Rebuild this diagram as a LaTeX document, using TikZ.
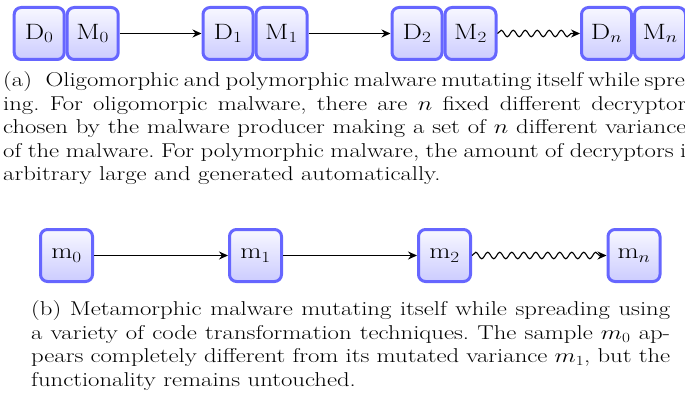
\RequirePackage{fix-cm}
\documentclass[tikz,border=0pt]{standalone}
\usepackage{graphicx}
\usetikzlibrary{arrows.meta,decorations.pathmorphing}

% glyphs are set a little flatter than their natural proportions
\newcommand\squat[1]{\scalebox{1}[0.81]{#1}}
\frenchspacing

\tikzset{
  x=1pt, y=1pt,
  box/.style={draw=blue!60, line width=3pt, rounded corners=7pt,
    top color=blue!3, bottom color=blue!20, inner sep=0pt,
    minimum height=52pt, font=\fontsize{27.4}{30}\selectfont},
  dbox/.style={box, minimum width=50pt},
  mbox/.style={box, minimum width=51pt, anchor=west},
  sbox/.style={box, minimum width=52pt},
  tip/.style={-{Stealth[length=9pt,width=8pt,inset=3pt]}},
  link/.style={tip, line width=1.4pt},
  wavy/.style={tip, line width=1.1pt, decorate,
    decoration={snake, segment length=12pt, amplitude=3.3pt, post length=6pt}},
  capline/.style={anchor=base west, inner sep=0pt,
    font=\fontsize{24.7}{25}\selectfont}
}

\begin{document}
\begin{tikzpicture}
\useasboundingbox (0,0) rectangle (685,394);
\clip (0,0) rectangle (685,394);

% decryptor/body pairs
\node[dbox] (d0) at (39.2,360.5) {\squat{D$_0$}};
\node[mbox] (m0) at (d0.east) {\squat{M$_0$}};
\node[dbox] (d1) at (228,360.5) {\squat{D$_1$}};
\node[mbox] (m1) at (d1.east) {\squat{M$_1$}};
\node[dbox] (d2) at (417,360.5) {\squat{D$_2$}};
\node[mbox] (m2) at (d2.east) {\squat{M$_2$}};
\node[dbox] (dn) at (606.5,360.5) {\squat{D$_n$}};
\node[mbox] (mn) at (dn.east) {\squat{M$_n$}};

\draw[link] (m0) -- (d1);
\draw[link] (m1) -- (d2);
\draw[wavy] (m2) -- (dn);

% caption of the first chain
\node[capline] (ca1) at (3,307)   {\squat{\makebox[698pt][s]{(a)\hspace{0.55em}Oligomorphic and polymorphic malware mutating itself while spread-}}};
\node[capline] (ca2) at (3,283.5) {\squat{\makebox[692pt][s]{ing. For oligomorpic malware, there are $n$ fixed different decryptors}}};
\node[capline] (ca3) at (3,260)   {\squat{\makebox[692pt][s]{chosen by the malware producer making a set of $n$ different variances}}};
\node[capline] (ca4) at (3,236.5) {\squat{\makebox[692pt][s]{of the malware. For polymorphic malware, the amount of decryptors is}}};
\node[capline] (ca5) at (3,213)   {\squat{arbitrary large and generated automatically.}};

% metamorphic samples
\node[sbox] (s0) at (66.5,138.5) {\squat{m$_0$}};
\node[sbox] (s1) at (255.5,138.5) {\squat{m$_1$}};
\node[sbox] (s2) at (444.5,138.5) {\squat{m$_2$}};
\node[sbox] (sn) at (634,138.5) {\squat{m$_n$}};

\draw[link] (s0) -- (s1);
\draw[link] (s1) -- (s2);
\draw[wavy] (s2) -- (sn);

% caption of the second chain
\node[capline] (cb1) at (31,78.5) {\squat{\makebox[639pt][s]{(b) Metamorphic malware mutating itself while spreading using}}};
\node[capline] (cb2) at (31,55)   {\squat{\makebox[639pt][s]{a variety of code transformation techniques. The sample $m_0$ ap-}}};
\node[capline] (cb3) at (31,31.5) {\squat{\makebox[639pt][s]{pears completely different from its mutated variance $m_1$, but the}}};
\node[capline] (cb4) at (31,8)    {\squat{functionality remains untouched.}};
\end{tikzpicture}
\end{document}
